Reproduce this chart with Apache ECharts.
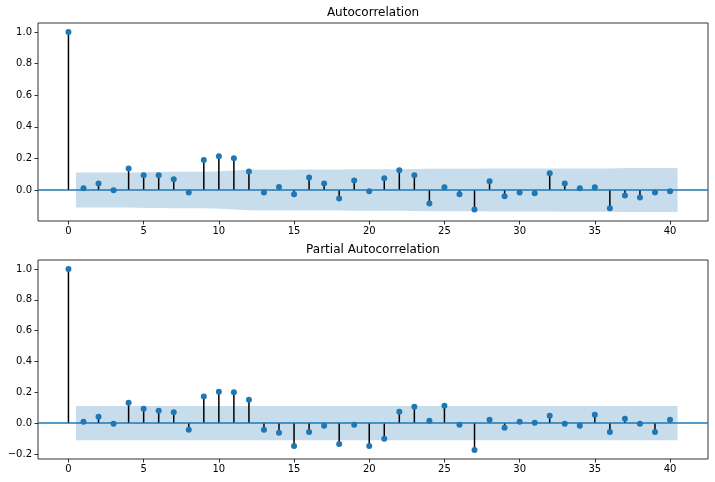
<!DOCTYPE html>
<html>
<head>
<meta charset="utf-8">
<script src="https://cdn.jsdelivr.net/npm/echarts@6/dist/echarts.min.js"></script>
<style>html,body{margin:0;padding:0;background:#fff}#c{width:715px;height:482px}</style>
</head>
<body>
<div id="c"></div>
<script>
const lags = [0,1,2,3,4,5,6,7,8,9,10,11,12,13,14,15,16,17,18,19,20,21,22,23,24,25,26,27,28,29,30,31,32,33,34,35,36,37,38,39,40];
const acfValues = [1.0,0.011,0.042,-0.002,0.137,0.093,0.093,0.068,-0.015,0.190,0.214,0.201,0.118,-0.015,0.019,-0.027,0.080,0.042,-0.053,0.061,-0.008,
  0.074,0.125,0.093,-0.085,0.017,-0.027,-0.123,0.055,-0.040,-0.015,-0.021,0.106,0.042,0.011,0.017,-0.116,-0.034,-0.047,-0.015,-0.008];
const pacfValues = [1.0,0.009,0.041,-0.004,0.133,0.093,0.080,0.070,-0.043,0.172,0.204,0.200,0.152,-0.043,-0.063,-0.148,-0.057,-0.017,-0.135,-0.011,-0.148,
  -0.102,0.074,0.107,0.015,0.113,-0.011,-0.174,0.022,-0.030,0.009,0.002,0.048,-0.004,-0.017,0.054,-0.057,0.028,-0.004,-0.057,0.022];
const bandX = [0.5,2,3,4,5,6,7,8,9,10,11,12,13,14,15,16,17,18,19,20,21,22,23,24,25,26,27,28,29,30,31,32,33,34,35,36,37,38,39,40.5];
const acfBand = [0.111,0.111,0.111,0.111,0.113,0.114,0.115,0.116,0.116,0.119,0.124,0.128,0.129,0.129,0.129,0.130,0.130,0.130,0.131,0.131,
  0.131,0.131,0.133,0.134,0.134,0.134,0.134,0.136,0.136,0.136,0.136,0.136,0.137,0.137,0.137,0.137,0.139,0.139,0.139,0.139];
const pacfBand = [0.111,0.111,0.111,0.111,0.111,0.111,0.111,0.111,0.111,0.111,0.111,0.111,0.111,0.111,0.111,0.111,0.111,0.111,0.111,0.111,
  0.111,0.111,0.111,0.111,0.111,0.111,0.111,0.111,0.111,0.111,0.111,0.111,0.111,0.111,0.111,0.111,0.111,0.111,0.111,0.111];
const xTicks = [0,5,10,15,20,25,30,35,40];
const acfTicks = [0.0,0.2,0.4,0.6,0.8,1.0];
const pacfTicks = [-0.2,0.0,0.2,0.4,0.6,0.8,1.0];
const titles = ['Autocorrelation','Partial Autocorrelation'];

const FONT = 'DejaVu Sans';
const C0 = '#1f77b4';
const fmt = v => (v < -1e-9 ? '\u2212' : '') + Math.abs(v).toFixed(1);

function xAxis(gi){
  return {type:'value', gridIndex:gi, min:-2.025, max:42.525, position:'bottom',
    axisLine:{show:false, onZero:false}, splitLine:{show:false},
    axisTick:{show:true, length:3.5, customValues:xTicks, lineStyle:{color:'#000', width:0.8}},
    axisLabel:{customValues:xTicks, margin:5, color:'#000', fontFamily:FONT, fontSize:10, showMinLabel:true, showMaxLabel:true}};
}
function yAxis(gi, ticks, mn, mx){
  return {type:'value', gridIndex:gi, min:mn, max:mx, position:'left',
    axisLine:{show:false, onZero:false}, splitLine:{show:false},
    axisTick:{show:true, length:3.5, customValues:ticks, lineStyle:{color:'#000', width:0.8}},
    axisLabel:{customValues:ticks, margin:6, color:'#000', fontFamily:FONT, fontSize:10, formatter:fmt, showMinLabel:true, showMaxLabel:true, hideOverlap:false}};
}
function bandSeries(gi, band){
  return {type:'custom', xAxisIndex:gi, yAxisIndex:gi, z:1, silent:true,
    data:[[0,0]],
    renderItem:(p, api) => {
      const pts = [];
      for (let i = 0; i < bandX.length; i++) pts.push(api.coord([bandX[i], band[i]]));
      for (let i = bandX.length - 1; i >= 0; i--) pts.push(api.coord([bandX[i], -band[i]]));
      return {type:'polygon', shape:{points:pts}, style:{fill:C0, opacity:0.25}};
    },
    markLine:{silent:true, symbol:['none','none'], label:{show:false}, animation:false,
      lineStyle:{color:C0, width:1.5, type:'solid', opacity:1}, data:[{yAxis:0}]}
  };
}
function stemSeries(gi, vals){
  return {type:'custom', xAxisIndex:gi, yAxisIndex:gi, z:3, silent:true,
    data: lags.map((l,i) => [l, vals[i]]),
    renderItem:(p, api) => {
      const a = api.coord([api.value(0), 0]);
      const b = api.coord([api.value(0), api.value(1)]);
      return {type:'line', shape:{x1:a[0], y1:a[1], x2:b[0], y2:b[1]}, style:{stroke:'#000', lineWidth:1.5}};
    }};
}
function dotSeries(gi, vals){
  return {type:'scatter', xAxisIndex:gi, yAxisIndex:gi, z:4, silent:true,
    symbol:'circle', symbolSize:6, itemStyle:{color:C0, opacity:1},
    data: lags.map((l,i) => [l, vals[i]])};
}

const chart = echarts.init(document.getElementById('c'), null, {renderer:'canvas'});
chart.setOption({
  animation:false,
  backgroundColor:'#fff',
  title:[
    {text:titles[0], left:373, top:7, textAlign:'center', padding:0, textStyle:{fontFamily:FONT, fontSize:12, fontWeight:'normal', color:'#000'}},
    {text:titles[1], left:373, top:244, textAlign:'center', padding:0, textStyle:{fontFamily:FONT, fontSize:12, fontWeight:'normal', color:'#000'}}
  ],
  grid:[
    {left:38, width:670, top:23, height:198, show:true, borderColor:'#000', borderWidth:0.8, backgroundColor:'transparent', containLabel:false},
    {left:38, width:670, top:260, height:199, show:true, borderColor:'#000', borderWidth:0.8, backgroundColor:'transparent', containLabel:false}
  ],
  xAxis:[xAxis(0), xAxis(1)],
  yAxis:[yAxis(0, acfTicks, -0.196, 1.057), yAxis(1, pacfTicks, -0.233, 1.059)],
  series:[
    bandSeries(0, acfBand), stemSeries(0, acfValues), dotSeries(0, acfValues),
    bandSeries(1, pacfBand), stemSeries(1, pacfValues), dotSeries(1, pacfValues)
  ]
});
</script>
</body>
</html>
